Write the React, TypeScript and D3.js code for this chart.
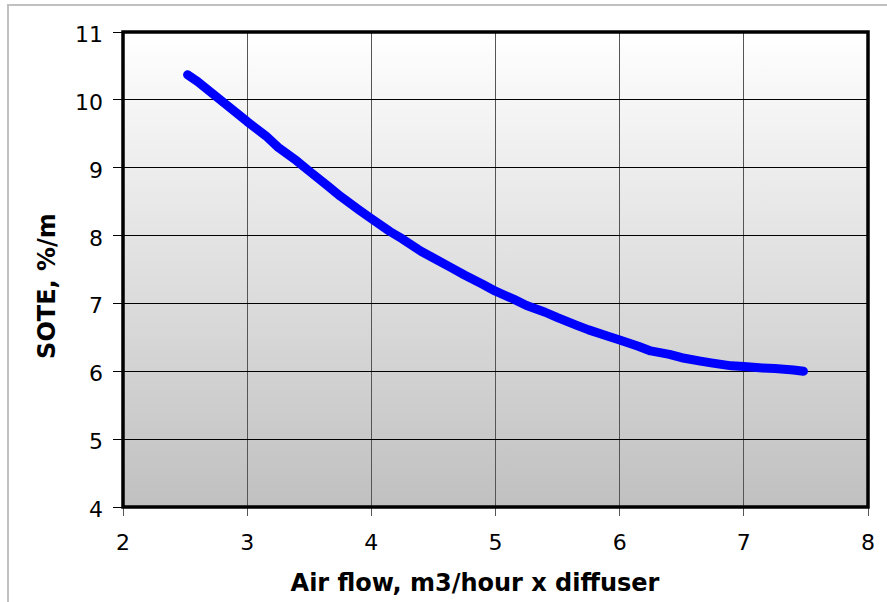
import React, { useRef, useEffect } from "react";
import * as d3 from "d3";

// Air flow (m3/hour x diffuser) vs SOTE (%/m)
const airFlow = [2.52, 2.6, 2.75, 2.9, 3.0, 3.15, 3.25, 3.4, 3.5, 3.65, 3.75, 3.9, 4.0, 4.15, 4.25, 4.4, 4.5, 4.65, 4.75, 4.9, 5.0, 5.15, 5.25, 5.4, 5.5, 5.65, 5.75, 5.9, 6.0, 6.15, 6.25, 6.4, 6.5, 6.65, 6.75, 6.9, 7.0, 7.15, 7.25, 7.4, 7.48];
const sote = [10.37, 10.27, 10.05, 9.83, 9.68, 9.47, 9.3, 9.1, 8.95, 8.73, 8.58, 8.38, 8.25, 8.06, 7.95, 7.77, 7.67, 7.52, 7.42, 7.28, 7.18, 7.06, 6.97, 6.87, 6.79, 6.68, 6.61, 6.52, 6.46, 6.37, 6.3, 6.25, 6.2, 6.15, 6.12, 6.08, 6.07, 6.05, 6.04, 6.02, 6.0];
const xTicks = [2, 3, 4, 5, 6, 7, 8];
const yTicks = [4, 5, 6, 7, 8, 9, 10, 11];

export default function App() {
    const svgRef = useRef<SVGSVGElement>(null);

    useEffect(() => {
        if (!svgRef.current) return;
        const svg = d3.select(svgRef.current);
        svg.selectAll("*").remove();

        const W = 887, H = 602;
        const left = 123, top = 32, right = 868, bottom = 507;
        const font = "Verdana, 'DejaVu Sans', sans-serif";

        const x = d3.scaleLinear().domain([2, 8]).range([left, right]);
        const y = d3.scaleLinear().domain([4, 11]).range([bottom, top]);

        // outer frame
        svg.append("rect").attr("width", W).attr("height", H).attr("fill", "#fff");
        svg.append("path")
            .attr("d", `M8,${H} L8,5 L${W},5`)
            .attr("fill", "none")
            .attr("stroke", "#c0c0c0")
            .attr("stroke-width", 2);

        const defs = svg.append("defs");
        const grad = defs.append("linearGradient")
            .attr("id", "bg").attr("x1", 0).attr("y1", 0).attr("x2", 0).attr("y2", 1);
        grad.append("stop").attr("offset", "0%").attr("stop-color", "#ffffff");
        grad.append("stop").attr("offset", "100%").attr("stop-color", "#c0c0c0");

        svg.append("rect")
            .attr("x", left).attr("y", top)
            .attr("width", right - left).attr("height", bottom - top)
            .attr("fill", "url(#bg)");

        // grid
        const grid = svg.append("g").attr("stroke-width", 1).attr("shape-rendering", "crispEdges");
        grid.selectAll("line.gx").data(xTicks).join("line")
            .attr("x1", d => x(d)).attr("x2", d => x(d))
            .attr("y1", top).attr("y2", bottom + 9)
            .attr("stroke", "#555");
        grid.selectAll("line.gy").data(yTicks).join("line")
            .attr("x1", left - 10).attr("x2", right)
            .attr("y1", d => y(d)).attr("y2", d => y(d))
            .attr("stroke", "#000");

        // plot border
        svg.append("rect")
            .attr("x", left).attr("y", top)
            .attr("width", right - left).attr("height", bottom - top)
            .attr("fill", "none")
            .attr("stroke", "#000")
            .attr("stroke-width", 3.5);

        // tick labels
        svg.append("g").selectAll("text").data(xTicks).join("text")
            .attr("x", d => x(d)).attr("y", bottom + 43)
            .attr("text-anchor", "middle")
            .attr("font-family", font).attr("font-size", 22)
            .attr("fill", "#000")
            .text(d => d);
        svg.append("g").selectAll("text").data(yTicks).join("text")
            .attr("x", left - 20).attr("y", d => y(d) + 10)
            .attr("text-anchor", "end")
            .attr("font-family", font).attr("font-size", 22)
            .attr("fill", "#000")
            .text(d => d);

        // axis titles
        svg.append("text")
            .attr("x", 475).attr("y", 591)
            .attr("text-anchor", "middle")
            .attr("font-family", font).attr("font-size", 24).attr("font-weight", "bold")
            .text("Air flow, m3/hour x diffuser");
        svg.append("text")
            .attr("transform", `translate(55,286) rotate(-90)`)
            .attr("text-anchor", "middle")
            .attr("font-family", font).attr("font-size", 24).attr("font-weight", "bold")
            .text("SOTE, %/m");

        // series
        const pts = airFlow.map((a, i) => [a, sote[i]] as [number, number]);
        const line = d3.line<[number, number]>()
            .x(d => x(d[0])).y(d => y(d[1]))
            .curve(d3.curveLinear);
        svg.append("path")
            .datum(pts)
            .attr("fill", "none")
            .attr("stroke", "#0000ff")
            .attr("stroke-width", 9)
            .attr("stroke-linejoin", "round")
            .attr("stroke-linecap", "round")
            .attr("d", line);
    }, []);

    return (
        <svg ref={svgRef} width={887} height={602} style={{ display: "block", position: "absolute", left: 0, top: 0 }} />
    );
}
